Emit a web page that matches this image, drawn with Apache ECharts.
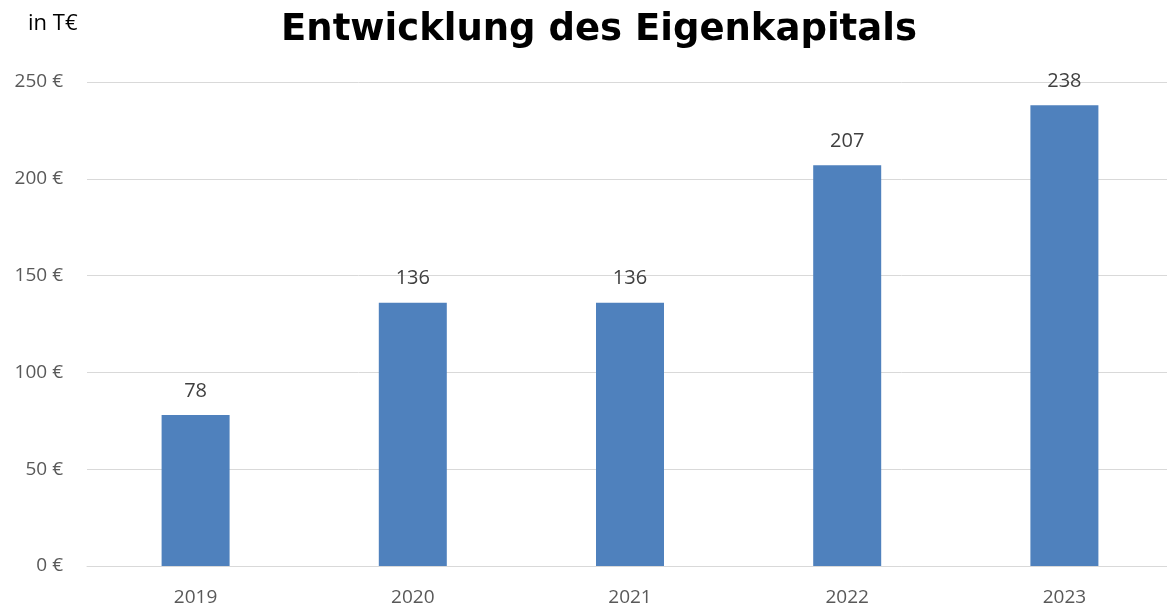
<!DOCTYPE html>
<html>
<head>
<meta charset="utf-8">
<script src="https://cdn.jsdelivr.net/npm/echarts@6/dist/echarts.min.js"></script>
<style>
html,body{margin:0;padding:0;background:#fff;overflow:hidden;width:1167px;height:607px;}
#chart{width:1185px;height:607px;}
</style>
</head>
<body>
<div id="chart"></div>
<script>
var categories = ['2019', '2020', '2021', '2022', '2023'];
var values = [78, 136, 136, 207, 238];
var yTicks = { min: 0, max: 250, interval: 50 };
var titleText = 'Entwicklung des Eigenkapitals';
var unitText = 'in T€';

var chart = echarts.init(document.getElementById('chart'));
chart.setOption({
  animation: false,
  backgroundColor: '#ffffff',
  title: [
    {
      text: titleText,
      left: 594, top: 7, textAlign: 'center',
      textStyle: { fontFamily: 'DejaVu Sans', fontWeight: 'bold', fontSize: 37, color: '#000000' }
    },
    {
      text: unitText,
      left: 23, top: 8,
      textStyle: { fontFamily: 'Open Sans', fontWeight: 'normal', fontSize: 22, color: '#000000' }
    }
  ],
  grid: { left: 87, width: 1086, top: 82, bottom: 41, containLabel: false },
  xAxis: {
    type: 'category',
    data: categories,
    axisLine: { show: true, lineStyle: { color: '#d9d9d9', width: 1 } },
    axisTick: { show: false },
    axisLabel: { color: '#595959', fontFamily: 'Open Sans', fontSize: 19, margin: 22 }
  },
  yAxis: {
    type: 'value',
    min: yTicks.min, max: yTicks.max, interval: yTicks.interval,
    axisLine: { show: false },
    axisTick: { show: false },
    splitLine: { lineStyle: { color: '#d9d9d9', width: 1 } },
    axisLabel: { color: '#595959', fontFamily: 'Open Sans', fontSize: 19, margin: 24, formatter: '{value} €' }
  },
  series: [{
    type: 'bar',
    data: values,
    barWidth: 68,
    itemStyle: { color: '#4F81BD' },
    label: {
      show: true, position: 'top', distance: 14,
      color: '#404040', fontFamily: 'Open Sans', fontSize: 20
    }
  }]
});
</script>
</body>
</html>
